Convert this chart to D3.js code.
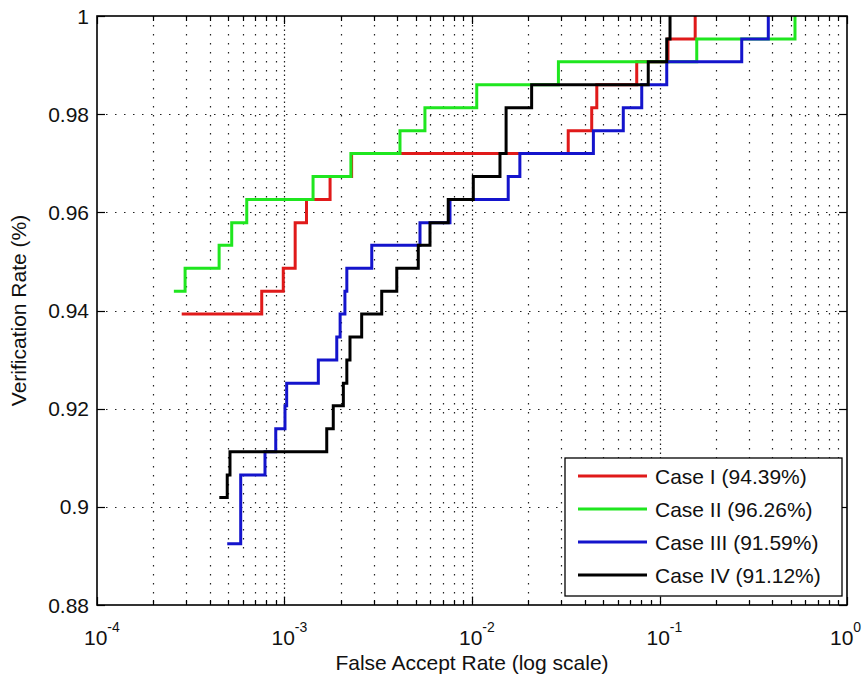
<!DOCTYPE html>
<html><head><meta charset="utf-8">
<script src="https://cdn.jsdelivr.net/npm/d3@7/dist/d3.min.js"></script>
<style>
body{margin:0;background:#fff}
svg{display:block}
text{font-family:"Liberation Sans",Arial,Helvetica,sans-serif;fill:#111}
</style>
</head><body><svg id="chart" width="862" height="682"></svg>
<script>
// ---------------- data ----------------
const caseNames = ["Case I (94.39%)", "Case II (96.26%)", "Case III (91.59%)", "Case IV (91.12%)"];

const caseI_far  = [2.83e-4, 7.56e-4, 9.85e-4, 1.14e-3, 1.31e-3, 1.75e-3, 2.28e-3, 0.0326, 0.0435, 0.0463, 0.0756, 0.111, 0.155];
const caseI_rate = [0.9393, 0.9439, 0.9486, 0.9579, 0.9626, 0.9673, 0.9720, 0.9766, 0.9813, 0.9860, 0.9907, 0.9953, 1.0];

const caseII_far  = [2.57e-4, 2.95e-4, 4.48e-4, 5.23e-4, 6.29e-4, 1.42e-3, 2.26e-3, 4.13e-3, 5.61e-3, 0.0106, 0.0289, 0.158, 0.528];
const caseII_rate = [0.9439, 0.9486, 0.9533, 0.9579, 0.9626, 0.9673, 0.9720, 0.9766, 0.9813, 0.9860, 0.9907, 0.9953, 1.0];

const caseIII_far  = [4.95e-4, 5.84e-4, 7.87e-4, 8.98e-4, 1.006e-3, 1.027e-3, 1.515e-3, 1.90e-3, 1.98e-3, 2.10e-3, 2.15e-3, 2.92e-3, 5.28e-3, 7.63e-3, 0.0156, 0.0180, 0.0444, 0.0641, 0.0804, 0.1093, 0.2745, 0.3804];
const caseIII_rate = [0.8925, 0.9065, 0.9112, 0.9159, 0.9206, 0.9252, 0.9299, 0.9346, 0.9393, 0.9439, 0.9486, 0.9533, 0.9579, 0.9626, 0.9673, 0.9720, 0.9766, 0.9813, 0.9860, 0.9907, 0.9953, 1.0];

const caseIV_far  = [4.49e-4, 4.95e-4, 5.12e-4, 1.68e-3, 1.82e-3, 2.06e-3, 2.15e-3, 2.235e-3, 2.58e-3, 3.30e-3, 3.97e-3, 5.17e-3, 5.97e-3, 7.47e-3, 0.01016, 0.0141, 0.0152, 0.0208, 0.0871, 0.1093, 0.1138];
const caseIV_rate = [0.9019, 0.9065, 0.9112, 0.9159, 0.9206, 0.9252, 0.9299, 0.9346, 0.9393, 0.9439, 0.9486, 0.9533, 0.9579, 0.9626, 0.9673, 0.9720, 0.9813, 0.9860, 0.9907, 0.9953, 1.0];

const xTickExponents = [-4, -3, -2, -1, 0];
const yTickValues = [0.88, 0.9, 0.92, 0.94, 0.96, 0.98, 1];
const yTickLabels = ["0.88", "0.9", "0.92", "0.94", "0.96", "0.98", "1"];
const xAxisTitle = "False Accept Rate (log scale)";
const yAxisTitle = "Verification Rate (%)";

// ---------------- styles ----------------
const colors = ["#e01a1a", "#1fe61f", "#1414cc", "#000000"];
const W = 862, H = 682;
const L = 97, R = 847, T = 16, B = 605;

const svg = d3.select("#chart");
svg.append("rect").attr("width", W).attr("height", H).attr("fill", "#fff");

const x = d3.scaleLog().domain([1e-4, 1]).range([L, R]);
const y = d3.scaleLinear().domain([0.88, 1]).range([B, T]);

const allXTicks = x.ticks(); // 1..9 per decade
const isMajor = v => Math.abs(Math.log10(v) - Math.round(Math.log10(v))) < 1e-9;

// grid
const grid = svg.append("g").attr("stroke", "#222").attr("stroke-width", 1.2);
grid.selectAll("line.vx").data(allXTicks.filter(v => v > 1e-4 && v < 1)).join("line")
  .attr("x1", d => Math.round(x(d)) + 0.5).attr("x2", d => Math.round(x(d)) + 0.5)
  .attr("y1", T).attr("y2", B)
  .attr("stroke-dasharray", d => isMajor(d) ? "1.5,3" : "1.5,7.5");
grid.selectAll("line.hy").data(yTickValues.filter(v => v > 0.88 && v < 1)).join("line")
  .attr("x1", L).attr("x2", R)
  .attr("y1", d => Math.round(y(d)) + 0.5).attr("y2", d => Math.round(y(d)) + 0.5)
  .attr("stroke-dasharray", "1.5,7.5");

// curves
const series = [
  {far: caseI_far, rate: caseI_rate},
  {far: caseII_far, rate: caseII_rate},
  {far: caseIII_far, rate: caseIII_rate},
  {far: caseIV_far, rate: caseIV_rate}
];
const line = d3.line().x(d => x(d[0])).y(d => y(d[1])).curve(d3.curveStepAfter);
svg.append("g").selectAll("path").data(series).join("path")
  .attr("d", s => line(s.far.map((f, i) => [f, s.rate[i]])))
  .attr("fill", "none")
  .attr("stroke", (s, i) => colors[i])
  .attr("stroke-width", 3)
  .attr("stroke-linejoin", "miter");

// ticks
const ticks = svg.append("g").attr("stroke", "#000").attr("stroke-width", 1.2);
ticks.selectAll("line.bt").data(allXTicks).join("line")
  .attr("x1", d => Math.round(x(d)) + 0.5).attr("x2", d => Math.round(x(d)) + 0.5)
  .attr("y1", B).attr("y2", d => B - (isMajor(d) ? 8 : 5));
ticks.selectAll("line.tt").data(allXTicks).join("line")
  .attr("x1", d => Math.round(x(d)) + 0.5).attr("x2", d => Math.round(x(d)) + 0.5)
  .attr("y1", T).attr("y2", d => T + (isMajor(d) ? 8 : 5));
ticks.selectAll("line.ly").data(yTickValues).join("line")
  .attr("x1", L).attr("x2", L + 8)
  .attr("y1", d => Math.round(y(d)) + 0.5).attr("y2", d => Math.round(y(d)) + 0.5);
ticks.selectAll("line.ry").data(yTickValues).join("line")
  .attr("x1", R).attr("x2", R - 8)
  .attr("y1", d => Math.round(y(d)) + 0.5).attr("y2", d => Math.round(y(d)) + 0.5);

// frame
svg.append("rect").attr("x", L).attr("y", T).attr("width", R - L).attr("height", B - T)
  .attr("fill", "none").attr("stroke", "#000").attr("stroke-width", 1.6);

// y tick labels
svg.append("g").selectAll("text").data(yTickValues).join("text")
  .attr("x", L - 8).attr("y", d => y(d)).attr("dy", "0.36em")
  .attr("text-anchor", "end").attr("font-size", 21)
  .text((d, i) => yTickLabels[i]);

// x tick labels: one text each, "10" centred under the tick, exponent raised
const xl = svg.append("g").selectAll("text").data(xTickExponents).join("text")
  .attr("x", d => x(Math.pow(10, d)) - (d === 0 ? 17 : 13)).attr("y", 645)
  .attr("text-anchor", "start").attr("font-size", 21);
xl.append("tspan").text("10");
xl.append("tspan").attr("dy", -13).attr("font-size", 14)
  .text(d => d === 0 ? "0" : "-" + Math.abs(d));

// axis titles
svg.append("text").attr("x", (L + R) / 2).attr("y", 670).attr("text-anchor", "middle")
  .attr("font-size", 21).text(xAxisTitle);
svg.append("text").attr("transform", `translate(26,${(T + B) / 2}) rotate(-90)`)
  .attr("text-anchor", "middle").attr("font-size", 21).text(yAxisTitle);

// legend
const lg = svg.append("g");
lg.append("rect").attr("x", 565).attr("y", 458).attr("width", 277).attr("height", 138)
  .attr("fill", "#fff").attr("stroke", "#000").attr("stroke-width", 1.3);
const rows = lg.selectAll("g.row").data(caseNames).join("g")
  .attr("transform", (d, i) => `translate(0,${476 + i * 33})`);
rows.append("line").attr("x1", 578).attr("x2", 647).attr("y1", 0).attr("y2", 0)
  .attr("stroke", (d, i) => colors[i]).attr("stroke-width", 3);
rows.append("text").attr("x", 655).attr("y", 0).attr("dy", "0.36em")
  .attr("font-size", 21).text(d => d);
</script>
</body></html>
